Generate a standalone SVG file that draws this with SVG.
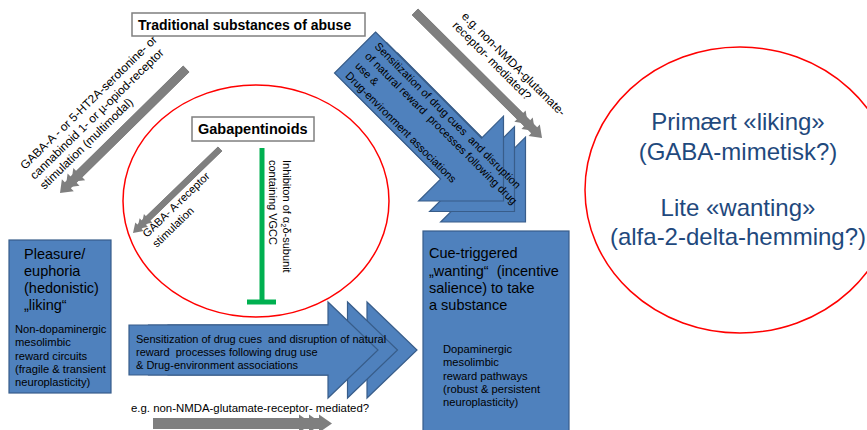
<svg xmlns="http://www.w3.org/2000/svg" width="867" height="430" viewBox="0 0 867 430">
<defs>
<style>
text{font-family:"Liberation Sans",Arial,sans-serif;fill:#000}
.blue{fill:#4F81BD;stroke:#385D8A;stroke-width:1.2}
.gray{fill:#7F7F7F}
.lbl{fill:#fff;stroke:#7F7F7F;stroke-width:1.5}
.ring{fill:none;stroke:#FF0000;stroke-width:1.5}
.big{font-size:14.5px}
.sm{font-size:11.2px}
.t11{font-size:11px}
.t12{font-size:11.8px}
.bold{font-weight:bold}
.no{fill:#1F497D;font-size:24px;text-anchor:middle}
.inh{stroke:#00B050;stroke-width:5;fill:none}
</style>
<polygon id="darrow" class="blue" points="0,-29 150,-29 150,-60 210,0 150,60 150,29 0,29"/>
<polygon id="harrow" class="blue" points="0,-25 199,-25 199,-48 249,0 199,48 199,25 0,25"/>
</defs>
<rect width="867" height="430" fill="#fff"/>

<g id="ellipse-left">
<ellipse class="ring" cx="256" cy="201" rx="133" ry="116"/>
</g>
<g id="ellipse-right">
<ellipse class="ring" cx="740" cy="190" rx="155" ry="143"/>
<text class="no" x="738" y="130">Primært «liking»</text>
<text class="no" x="738" y="160">(GABA-mimetisk?)</text>
<text class="no" x="738" y="216">Lite «wanting»</text>
<text class="no" x="738" y="245">(alfa-2-delta-hemming?)</text>
</g>

<g id="connectors">
<!-- top-left gray arrow -->
<g class="gray" transform="translate(60,193) rotate(135.5)">
<polygon points="-177,-4.3 -27,-4.3 -27,-8.5 -16,0 -27,8.5 -27,4.3 -177,4.3"/>
<polygon points="-177,-4.3 -19,-4.3 -19,-8.5 -8,0 -19,8.5 -19,4.3 -177,4.3"/>
<polygon points="-177,-4.3 -11,-4.3 -11,-8.5 0,0 -11,8.5 -11,4.3 -177,4.3"/>
</g>
<!-- inner gray arrow -->
<g class="gray" transform="translate(133,233) rotate(136)">
<polygon points="-121,-3 -21,-3 -21,-6 -12,0 -21,6 -21,3 -121,3"/>
<polygon points="-121,-3 -15,-3 -15,-6 -6,0 -15,6 -15,3 -121,3"/>
<polygon points="-121,-3 -9,-3 -9,-6 0,0 -9,6 -9,3 -121,3"/>
</g>
<!-- top-right gray arrow -->
<g class="gray" transform="translate(542,138) rotate(44.8)">
<polygon points="-179,-4.3 -31,-4.3 -31,-8 -20,0 -31,8 -31,4.3 -179,4.3"/>
<polygon points="-179,-4.3 -21,-4.3 -21,-8 -10,0 -21,8 -21,4.3 -179,4.3"/>
<polygon points="-179,-4.3 -11,-4.3 -11,-8 0,0 -11,8 -11,4.3 -179,4.3"/>
</g>
<!-- bottom gray arrow -->
<g class="gray" transform="translate(332,423.5)">
<polygon points="-179,-5.5 -33,-5.5 -33,-9 -20,0 -33,9 -33,5.5 -179,5.5"/>
<polygon points="-179,-5.5 -23,-5.5 -23,-9 -10,0 -23,9 -23,5.5 -179,5.5"/>
<polygon points="-179,-5.5 -13,-5.5 -13,-9 0,0 -13,9 -13,5.5 -179,5.5"/>
</g>
<!-- diagonal blue stacked arrow -->
<use href="#darrow" transform="translate(377,73.5) rotate(45)"/>
<use href="#darrow" transform="translate(366,63) rotate(45)"/>
<use href="#darrow" transform="translate(355,52.5) rotate(45)"/>
<!-- horizontal blue stacked arrow -->
<use href="#harrow" transform="translate(168,350)"/>
<use href="#harrow" transform="translate(148.5,350)"/>
<use href="#harrow" transform="translate(129,350)"/>
<!-- inhibition line -->
<line class="inh" x1="262" y1="148" x2="262" y2="302"/>
<line class="inh" x1="247" y1="302" x2="276" y2="302"/>

<!-- connector labels -->
<text class="t12" transform="translate(25,170) rotate(-44.3)"><tspan x="0" y="0">GABA-A - or 5-HT2A-serotonine- or</tspan><tspan x="0" dy="14">cannabinoid 1- or µ-opiod-receptor</tspan><tspan x="0" dy="14">stimulation (multimodal)</tspan></text>
<text class="t11" transform="translate(147,238) rotate(-44)"><tspan x="0" y="0">GABA- A-receptor</tspan><tspan x="0" dy="14">stimulation</tspan></text>
<text class="t11" transform="translate(283,160) rotate(90)"><tspan x="0" y="0">Inhibiton of α</tspan><tspan dy="2" font-size="7.5">2</tspan><tspan dy="-2">δ-subunit</tspan><tspan x="0" dy="14">containing VGCC</tspan></text>
<text class="t11" xml:space="preserve" transform="translate(374,47) rotate(45)"><tspan x="0" y="0">Sensitization of drug cues  and disruption</tspan><tspan x="0" y="13.8">of natural reward  processes following drug</tspan><tspan x="0" y="27.6">use &amp;</tspan><tspan x="0" y="41.4">Drug-environment associations</tspan></text>
<text class="t12" transform="translate(461,17) rotate(45)"><tspan x="0" y="0">e.g. non-NMDA-glutamate-</tspan><tspan x="0" dy="13">receptor- mediated?</tspan></text>
<text class="t11" xml:space="preserve"><tspan x="136" y="343">Sensitization of drug cues  and disruption of natural</tspan><tspan x="136" y="356">reward  processes following drug use</tspan><tspan x="136" y="369">&amp; Drug-environment associations</tspan></text>
<text font-size="11.4" x="131" y="412">e.g. non-NMDA-glutamate-receptor- mediated?</text>
</g>

<g id="title">
<rect class="lbl" x="132" y="13" width="233" height="23"/>
<text class="bold" font-size="14" x="138" y="30">Traditional substances of abuse</text>
</g>
<g id="gabapentinoids">
<rect class="lbl" x="192" y="117" width="122" height="24"/>
<text class="bold" font-size="14.5" x="198" y="134">Gabapentinoids</text>
</g>

<g id="liking">
<rect class="blue" x="9" y="240" width="102" height="153"/>
<text class="big"><tspan x="24" y="259">Pleasure/</tspan><tspan x="24" y="276">euphoria</tspan><tspan x="24" y="293">(hedonistic)</tspan><tspan x="24" y="310">„liking“</tspan></text>
<text class="sm"><tspan x="15" y="333">Non-dopaminergic</tspan><tspan x="15" y="346">mesolimbic</tspan><tspan x="15" y="359.5">reward circuits</tspan><tspan x="15" y="373">(fragile &amp; transient</tspan><tspan x="15" y="386">neuroplasticity)</tspan></text>
</g>

<g id="wanting">
<rect class="blue" x="423" y="231" width="146" height="210"/>
<text class="big" xml:space="preserve"><tspan x="429" y="258">Cue-triggered</tspan><tspan x="429" y="276">„wanting“  (incentive</tspan><tspan x="429" y="293">salience) to take</tspan><tspan x="429" y="310">a substance</tspan></text>
<text class="sm"><tspan x="443" y="353">Dopaminergic</tspan><tspan x="443" y="366">mesolimbic</tspan><tspan x="443" y="379.5">reward pathways</tspan><tspan x="443" y="393">(robust &amp; persistent</tspan><tspan x="443" y="406">neuroplasticity)</tspan></text>
</g>
</svg>
